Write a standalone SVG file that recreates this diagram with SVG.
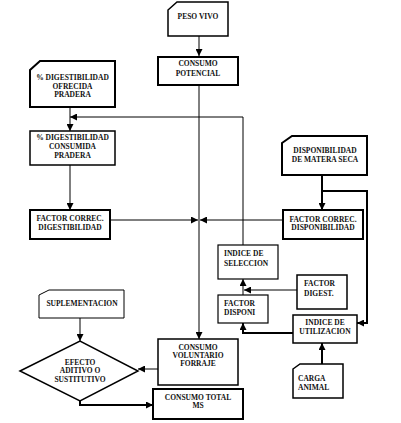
<svg xmlns="http://www.w3.org/2000/svg" width="401" height="423" viewBox="0 0 401 423">
<defs>
<marker id="arr" markerUnits="userSpaceOnUse" markerWidth="7" markerHeight="7" viewBox="0 0 7 7" refX="7" refY="3.5" orient="auto"><path d="M0,0 L7,3.5 L0,7 z" fill="#000"/></marker>
<style>
.n{fill:#fff;stroke:#000;stroke-width:2}
.m{stroke-width:1.5}
.t{stroke-width:1.2}
text{font-family:"Liberation Serif","Times New Roman",serif;font-weight:bold;font-size:7.5px;fill:#111}
.c{text-anchor:middle}
.e{fill:none;stroke:#000;stroke-width:1;marker-end:url(#arr)}
.k{stroke-width:2}
</style>
</defs>
<rect width="401" height="423" fill="#fff"/>
<g id="connectors">
<path class="e" d="M199,36 V56"/>
<path class="e" d="M199,85 V339"/>
<path class="e" d="M70,107 V131"/>
<path class="e" d="M243,245 V117 H70"/>
<path class="e" d="M70,165 V210"/>
<path class="e" d="M110,220 H198"/>
<path class="e" d="M283,220 H200"/>
<path class="e k" d="M322,175 V210"/>
<path class="e k" d="M322,191 H367 V323 H357"/>
<path class="e" d="M297,290 H244"/>
<path class="e" d="M243,295 V279"/>
<path class="e k" d="M293,333 H243 V323"/>
<path class="e k" d="M322,364 V343"/>
<path class="e" d="M80,318 V341"/>
<path class="e" d="M158,369 H138"/>
<path class="e k" d="M80,401 V405 H153"/>
</g>
<g id="peso-vivo">
<path class="n m" d="M168,10 L177,2 L228,2 L228,36 L168,36 Z"/>
<text class="c" x="198" y="19">PESO VIVO</text>
</g>
<g id="consumo-potencial">
<rect class="n" x="158" y="57" width="80" height="28"/>
<text class="c" x="198" y="66">CONSUMO</text>
<text class="c" x="198" y="76">POTENCIAL</text>
</g>
<g id="dig-ofrecida">
<path class="n" d="M30,70 L40,61 L115,61 L115,107 L30,107 Z"/>
<text class="c" x="72.5" y="80">% DIGESTIBILIDAD</text>
<text class="c" x="72.5" y="89">OFRECIDA</text>
<text class="c" x="72.5" y="97">PRADERA</text>
</g>
<g id="dig-consumida">
<rect class="n m" x="30" y="131" width="85" height="34"/>
<text class="c" x="72.5" y="140">% DIGESTIBILIDAD</text>
<text class="c" x="72.5" y="149">CONSUMIDA</text>
<text class="c" x="72.5" y="158">PRADERA</text>
</g>
<g id="factor-correc-dig">
<rect class="n" x="30" y="210" width="80" height="29"/>
<text class="c" x="70" y="221">FACTOR CORREC.</text>
<text class="c" x="70" y="230">DIGESTIBILIDAD</text>
</g>
<g id="disp-materia-seca">
<path class="n" d="M282,143 L292,136 L367,136 L367,175 L282,175 Z"/>
<text class="c" x="325" y="153">DISPONIBILIDAD</text>
<text class="c" x="325" y="162">DE MATERA SECA</text>
</g>
<g id="factor-correc-disp">
<rect class="n" x="283" y="210" width="80" height="29"/>
<text class="c" x="323" y="222">FACTOR CORREC.</text>
<text class="c" x="323" y="230">DISPONIBILIDAD</text>
</g>
<g id="indice-seleccion">
<rect class="n t" x="218" y="245" width="60" height="34"/>
<text x="224" y="256">INDICE DE</text>
<text x="224" y="266">SELECCION</text>
</g>
<g id="factor-disponi">
<rect class="n t" x="218" y="295" width="50" height="28"/>
<text x="224" y="306">FACTOR</text>
<text x="224" y="315">DISPONI</text>
</g>
<g id="factor-digest">
<rect class="n m" x="297" y="275" width="50" height="34"/>
<text x="304" y="286">FACTOR</text>
<text x="304" y="296">DIGEST.</text>
</g>
<g id="indice-utilizacion">
<rect class="n m" x="293" y="315" width="64" height="28"/>
<text class="c" x="325" y="325">INDICE DE</text>
<text class="c" x="325" y="334">UTILIZACION</text>
</g>
<g id="carga-animal">
<path class="n m" d="M293,369 L300,364 L343,364 L343,398 L293,398 Z"/>
<text x="298" y="381">CARGA</text>
<text x="298" y="390">ANIMAL</text>
</g>
<g id="suplementacion">
<path class="n" style="stroke-width:1" d="M39,295 L49,290 L124,290 L124,318 L39,318 Z"/>
<text class="c" x="82" y="306">SUPLEMENTACION</text>
</g>
<g id="efecto">
<polygon class="n m" points="20,371 80,341 138,371 80,401"/>
<text class="c" x="80" y="364.5">EFECTO</text>
<text class="c" x="80" y="373">ADITIVO O</text>
<text class="c" x="80" y="382">SUSTITUTIVO</text>
</g>
<g id="consumo-voluntario">
<rect class="n m" x="158" y="339" width="80" height="46"/>
<text class="c" x="198" y="349.5">CONSUMO</text>
<text class="c" x="198" y="358">VOLUNTARIO</text>
<text class="c" x="198" y="366">FORRAJE</text>
</g>
<g id="consumo-total">
<rect class="n" x="153" y="389" width="90" height="30"/>
<text class="c" x="198" y="400">CONSUMO TOTAL</text>
<text class="c" x="198" y="408">MS</text>
</g>
</svg>
